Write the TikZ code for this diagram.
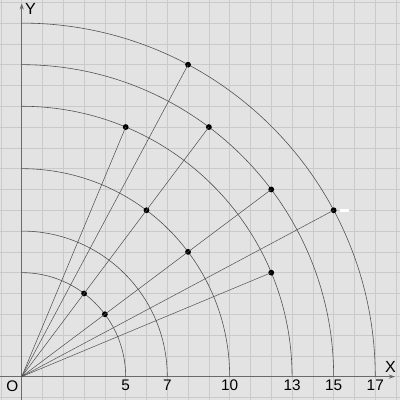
\documentclass[tikz,border=0pt]{standalone}
\usepackage{fontspec}
\setmainfont{Liberation Sans}
\usetikzlibrary{arrows.meta}
\definecolor{bg}{HTML}{E3E3E3}
\definecolor{gridc}{HTML}{CACACA}
\definecolor{linec}{HTML}{505050}
\definecolor{axisc}{HTML}{6A6A6A}
\begin{document}
\begin{tikzpicture}[
  dotnode/.style={circle,fill=black,inner sep=0pt,minimum size=0.28cm},
  arcline/.style={draw=linec,line width=0.8pt},
  rayline/.style={draw=linec,line width=0.7pt},
  axisline/.style={draw=axisc,line width=1.3pt},
  lbl/.style={font=\fontsize{21}{25}\selectfont,text=black,inner sep=0pt}
]
\useasboundingbox (-1.043,-1.12) rectangle (18.19,18.11);
\fill[bg] (-1.043,-1.12) rectangle (18.19,18.11);
\draw[gridc,line width=0.9pt] (-1.043,-1.12) grid (18.19,18.11);
% axes
\coordinate (O) at (0,0);
\coordinate (xs) at (-1.043,0);
\coordinate (xe) at (17.95,0);
\coordinate (ys) at (0,-1.12);
\coordinate (ye) at (0,17.95);
\draw[axisline,-{Stealth[length=0.3cm,width=0.2cm]}] (xs) -- (xe);
\draw[axisline,-{Stealth[length=0.3cm,width=0.2cm]}] (ys) -- (ye);
% arcs
\foreach \r in {5,7,10,13,15,17}{
  \draw[arcline] (\r,0) arc[start angle=0,end angle=90,radius=\r];
}
% dots
\node[dotnode] (p1) at (8,15) {};
\node[dotnode] (p2) at (5,12) {};
\node[dotnode] (p3) at (9,12) {};
\node[dotnode] (p4) at (12,9) {};
\node[dotnode] (p5) at (15,8) {};
\node[dotnode] (p6) at (6,8) {};
\node[dotnode] (p7) at (8,6) {};
\node[dotnode] (p8) at (12,5) {};
\node[dotnode] (p9) at (3,4) {};
\node[dotnode] (p10) at (4,3) {};
% rays
\draw[rayline] (O) -- (p1.center);
\draw[rayline] (O) -- (p2.center);
\draw[rayline] (O) -- (p3.center);
\draw[rayline] (O) -- (p4.center);
\draw[rayline] (O) -- (p5.center);
\draw[rayline] (O) -- (p8.center);
% white mark
\fill[white] (15.3,7.9) rectangle (15.75,8.05);
% labels
\node[lbl] (lO) at (-0.45,-0.45) {O};
\node[lbl] (l5) at (5,-0.43) {5};
\node[lbl] (l7) at (7,-0.43) {7};
\node[lbl] (l10) at (10,-0.43) {10};
\node[lbl] (l13) at (13,-0.43) {13};
\node[lbl] (l15) at (15,-0.43) {15};
\node[lbl] (l17) at (17,-0.43) {17};
\node[lbl,font=\fontsize{22}{26}\selectfont] (lX) at (17.73,0.47) {X};
\node[lbl,font=\fontsize{22}{26}\selectfont] (lY) at (0.42,17.68) {Y};
\end{tikzpicture}
\end{document}
